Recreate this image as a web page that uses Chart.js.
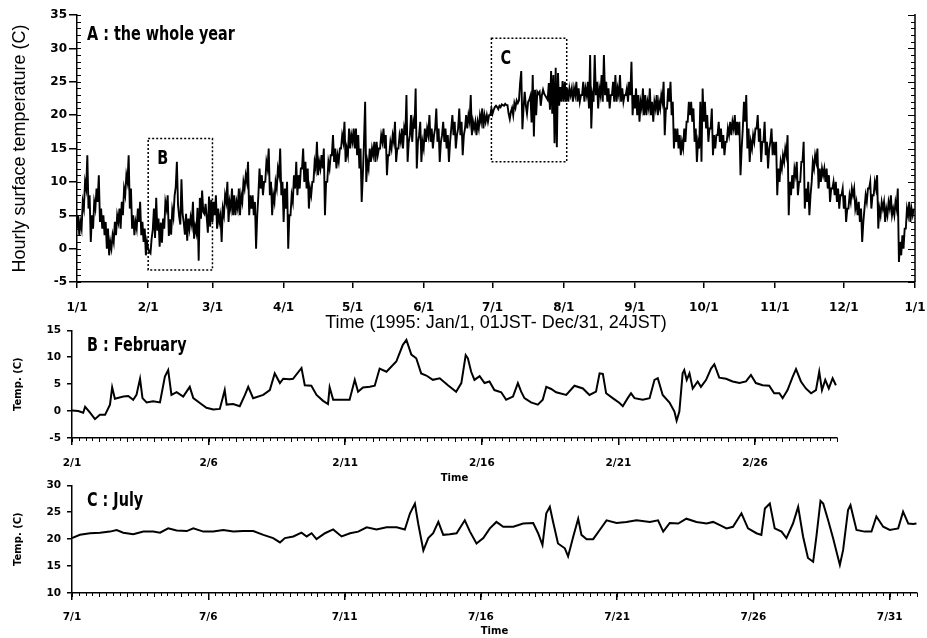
<!DOCTYPE html>
<html>
<head>
<meta charset="utf-8">
<script src="https://cdn.jsdelivr.net/npm/chart.js@4"></script>
<style>
  body { margin: 0; background: #fff; }
  #wrap { position: relative; width: 927px; height: 638px; background: #fff; overflow: hidden; }
  canvas { position: absolute; left: 0; }
  .ptitle {
    position: absolute; left: 87px; margin: 0;
    font-family: "Liberation Sans Narrow", "DejaVu Sans Condensed", "DejaVu Sans", sans-serif;
    font-weight: bold; font-size: 20px; line-height: 20px; color: #000; white-space: nowrap;
    transform: scaleX(0.8); transform-origin: left top;
  }
</style>
</head>
<body>
<div id="wrap">
  <canvas id="chartYear" width="927" height="335" style="top:0px"></canvas>
  <canvas id="chartFeb" width="927" height="167" style="top:318px"></canvas>
  <canvas id="chartJul" width="927" height="165" style="top:473px"></canvas>
  <div class="ptitle" style="top:23px">A : the whole year</div>
  <div class="ptitle" style="top:334px">B : February</div>
  <div class="ptitle" style="top:489px">C : July</div>
</div>
<script>
// --- DATA ---
// A: whole year, two readings per day (12 h apart), day 0 = Jan/1
const yearTemp = [
  // Jan
  3,5, 2,4, 3,7, 6,10, 9,14, 6,8, 1,5, 3,7, 6,9, 7,11, 4,6, 3,5, 2,4, 0,3, -1,1, 0,2, 1,4, 2,5, 4,6, 3,7, 5,9, 8,11, 10,14, 6,9, 3,5, 2,4, 3,6, 4,7, 2,4, 1,3, -1,1,
  // Feb
  0,-0.5, -0.7,1.5, 2.8,6, 1.6,7.6, 2.7,4.5, 0.3,3.9, 0.9,4.5, 3,7, 6,8, 1.9,4.4, 2.1,5.8, 4.7,7.9, 9.2,13, 6.6,4.8, 3.6,10.4, 5.2,3.9, 2.1,5.2, 1.2,4.5, 3,4.7, 3.6,7, 1.5,3.3, 2.4,6.1, -1.8,7.6, 4.5,8.7, 5.5,5.2, 6.7,4.7, 2.4,7.8, 3.3,7.3,
  // Mar
  4,7, 5,8, 3,6, 4,5, 1,6, 5,8, 7,10, 4,7, 6,9, 5,8, 5,7, 6,9, 5,8, 7,10, 9,11, 10,13, 5,8, 6,8, 5,7, 0,5, 8,12, 9,11, 8,10, 10,13, 12,15, 8,10, 5,8, 7,10, 9,12, 11,15, 8,10,
  // Apr
  4,9, 6,10, 0,5, 5,8, 7,11, 9,13, 8,11, 9,12, 12,15, 10,13, 9,12, 6,9, 8,10, 10,13, 12,16, 11,13, 12,14, 12,15, 5,10, 10,13, 12,14, 14,17, 13,15, 12,14, 13,15, 15,17, 16,19, 13,15, 14,18, 15,17,
  // May
  16,18, 15,18, 14,17, 12,15, 7,11, 16,22, 10,13, 12,15, 13,15, 14,16, 13,16, 14,15, 15,17, 16,18, 15,17, 11,14, 14,16, 15,17, 16,19, 13,15, 15,17, 16,18, 15,18, 17,23, 13,16, 17,20, 16,19, 18,24, 12,16, 17,19, 13,16,
  // Jun
  15,18, 16,18, 17,20, 16,18, 15,17, 18,21, 16,18, 13,16, 17,19, 16,18, 15,17, 13,16, 18,20, 17,19, 15,17, 18,21, 17,19, 14,17, 18,20, 18,20, 19,23, 17,19, 18,19, 17,19, 18,20, 19,21, 18,20, 19,20, 19,20, 20,21,
  // Jul
  20.2,20.8, 21.2,21.4, 21.2,20.9, 21.4,21.2, 21.6,21.5, 21.4,21.7, 21.5,21.5, 20.2,19.4, 20.5,21.1, 20,21.8, 21.1,22.2, 21.8,22.2, 24.8,26.6, 17.9,21.1, 23.5,21.4, 20.2,22, 22.3,22.9, 18.9,26, 16.8,23.8, 20,23.5, 23.2,23.5, 21.4,23, 23.8,23.2, 22.9,22.6, 22.3,24.8, 20.8,26.6, 20.2,26, 15.8,27.1, 15.2,26.3, 21.4,24.2, 22,25.1,
  // Aug
  22,25, 22,24, 22,24, 23,24, 22,24, 23,25, 22,24, 22,23, 23,25, 22,24, 23,25, 21,29, 18,23, 22,29, 23,25, 21,24, 23,26, 22,29, 23,25, 22,24, 21,23, 23,25, 22,26, 22,24, 23,26, 22,24, 22,23, 23,24, 22,25, 23,28, 20,23,
  // Sep
  21,24, 20,23, 19,22, 21,24, 20,23, 20,22, 21,24, 20,22, 19,22, 21,23, 20,22, 21,23, 22,25, 17,21, 21,24, 22,25, 20,22, 15,18, 16,18, 15,17, 14,16, 15,18, 16,19, 19,22, 20,22, 19,21, 16,18, 13,16, 15,22, 13,24,
  // Oct
  19,22, 18,20, 16,18, 18,21, 14,17, 15,17, 17,19, 16,18, 15,17, 14,16, 16,18, 17,19, 17,19, 18,20, 17,19, 17,19, 11,15, 18,22, 19,23, 15,18, 13,16, 15,17, 16,18, 18,20, 16,18, 13,16, 16,19, 14,16, 12,15, 16,18, 14,16,
  // Nov
  14,16, 8,12, 10,13, 12,14, 13,15, 14,17, 5,10, 8,11, 9,12, 11,13, 8,10, 10,13, 13,16, 6,9, 7,10, 5,8, 10,13, 12,14, 13,15, 9,12, 10,12, 11,12, 10,12, 9,11, 7,9, 9,10, 8,10, 7,9, 6,8, 8,9,
  // Dec
  6,8, 4,6, 6,8, 7,9, 8,9, 6,7, 5,7, 4,6, 1,4, 6,8, 7,9, 9,10, 6,8, 8,10, 9,11, 3,6, 5,7, 6,7, 4,6, 5,7, 6,8, 5,6, 5,7, 6,9, -2,1, -1,2, 0,3, 3,6, 5,7, 4,6, 5,6
];
const monthStarts = [0, 31, 59, 90, 120, 151, 181, 212, 243, 273, 304, 334, 365];
const monthLabels = ['1/1', '2/1', '3/1', '4/1', '5/1', '6/1', '7/1', '8/1', '9/1', '10/1', '11/1', '12/1', '1/1'];

// B: February, days since Feb/1
const febDay = [
  0, 0.23, 0.41, 0.48, 0.66, 0.84, 1.02, 1.21, 1.39, 1.47,
  1.57, 1.88, 2.06, 2.24, 2.36, 2.49, 2.58, 2.73, 2.97, 3.22,
  3.40, 3.52, 3.64, 3.83, 4.07, 4.31, 4.44, 4.68, 4.92, 5.17,
  5.41, 5.53, 5.59, 5.66, 5.90, 6.14, 6.33, 6.45, 6.63, 7.00,
  7.24, 7.42, 7.61, 7.73, 7.97, 8.09, 8.40, 8.52, 8.76, 8.95,
  9.19, 9.37, 9.43, 9.56, 9.80, 10.16, 10.35, 10.47, 10.65, 10.90,
  11.08, 11.26, 11.51, 11.87, 12.11, 12.24, 12.42, 12.60, 12.78, 12.97,
  13.21, 13.46, 13.76, 14.06, 14.25, 14.41, 14.49, 14.61, 14.73, 14.92,
  15.10, 15.28, 15.46, 15.71, 15.89, 16.14, 16.32, 16.44, 16.56, 16.80,
  17.05, 17.23, 17.36, 17.54, 17.72, 18.09, 18.39, 18.70, 18.94, 19.18,
  19.31, 19.43, 19.55, 19.79, 20.04, 20.16, 20.34, 20.46, 20.59, 20.89,
  21.14, 21.32, 21.44, 21.62, 21.87, 22.05, 22.13, 22.23, 22.35, 22.41,
  22.50, 22.60, 22.72, 22.90, 23.02, 23.21, 23.39, 23.51, 23.69, 23.94,
  24.18, 24.43, 24.67, 24.85, 25.03, 25.28, 25.52, 25.70, 25.89, 26.01,
  26.19, 26.38, 26.50, 26.68, 26.86, 27.05, 27.23, 27.35, 27.45, 27.57,
  27.70, 27.84, 27.96
];
const febTemp = [
  0.1, 0, -0.3, 0.8, -0.3, -1.5, -0.7, -0.7, 1.2, 4.4,
  2.3, 2.7, 2.8, 2.1, 3.0, 6.0, 2.4, 1.6, 1.8, 1.6,
  6.4, 7.6, 3.0, 3.5, 2.7, 4.5, 2.4, 1.5, 0.6, 0.3,
  0.4, 2.7, 3.9, 1.2, 1.3, 0.9, 3.0, 4.5, 2.4, 3.0,
  3.9, 7.0, 5.2, 6.0, 5.9, 6.0, 8.0, 4.8, 4.7, 3.0,
  1.9, 1.3, 4.4, 2.1, 2.1, 2.1, 5.8, 3.6, 4.4, 4.5,
  4.7, 7.9, 7.3, 9.2, 12.3, 13.2, 10.5, 9.8, 7.0, 6.6,
  5.8, 6.1, 4.8, 3.6, 5.2, 10.4, 9.8, 7.3, 5.8, 6.5,
  5.2, 5.5, 3.9, 3.5, 2.1, 2.7, 5.2, 3.6, 2.4, 1.6,
  1.2, 2.1, 4.5, 4.1, 3.5, 3.0, 4.7, 4.2, 3.0, 3.6,
  7.0, 6.9, 3.3, 2.4, 1.5, 0.9, 2.4, 3.3, 2.4, 2.1,
  2.4, 5.8, 6.1, 3.0, 1.6, -0.1, -1.8, -0.1, 7.0, 7.6,
  5.8, 7.0, 4.2, 5.5, 4.5, 5.8, 7.9, 8.7, 6.2, 6.0,
  5.5, 5.2, 5.5, 6.7, 5.2, 4.8, 4.7, 3.3, 3.3, 2.4,
  3.9, 6.4, 7.8, 5.5, 4.2, 3.3, 3.9, 7.3, 3.9, 5.8,
  4.2, 6.1, 4.8
];
const febTickDays = [0, 5, 10, 15, 20, 25];
const febTickLabels = ['2/1', '2/6', '2/11', '2/16', '2/21', '2/26'];

// C: July, days since Jul/1
const julDay = [
  0, 0.29, 0.66, 1.03, 1.39, 1.64, 1.88, 2.25, 2.62, 2.98,
  3.23, 3.53, 3.84, 4.21, 4.45, 4.82, 5.18, 5.55, 5.92, 6.28,
  6.65, 7.02, 7.38, 7.63, 7.81, 8.12, 8.42, 8.61, 8.79, 8.97,
  9.28, 9.58, 9.89, 10.20, 10.50, 10.81, 11.17, 11.54, 11.91, 12.21,
  12.40, 12.58, 12.70, 12.89, 13.07, 13.25, 13.44, 13.62, 13.86, 14.11,
  14.41, 14.60, 14.84, 15.09, 15.33, 15.57, 15.82, 16.19, 16.55, 16.92,
  17.10, 17.26, 17.40, 17.53, 17.65, 17.83, 18.08, 18.20, 18.39, 18.57,
  18.69, 18.88, 19.12, 19.36, 19.61, 19.98, 20.34, 20.71, 21.20, 21.50,
  21.69, 21.93, 22.24, 22.54, 22.91, 23.28, 23.52, 23.77, 24.01, 24.25,
  24.56, 24.80, 25.11, 25.29, 25.42, 25.60, 25.78, 26.03, 26.21, 26.45,
  26.64, 26.82, 27.00, 27.19, 27.31, 27.46, 27.56, 27.74, 27.92, 28.17,
  28.29, 28.47, 28.56, 28.78, 29.08, 29.33, 29.51, 29.76, 30.00, 30.31,
  30.49, 30.68, 30.86, 30.98
];
const julTemp = [
  20.2, 20.8, 21.1, 21.2, 21.4, 21.7, 21.2, 20.9, 21.4, 21.4,
  21.2, 22.0, 21.6, 21.5, 22.0, 21.4, 21.4, 21.7, 21.4, 21.5,
  21.5, 20.8, 20.2, 19.4, 20.2, 20.5, 21.2, 20.5, 21.1, 20.0,
  21.1, 21.8, 20.5, 21.1, 21.4, 22.2, 21.8, 22.2, 22.2, 21.8,
  24.8, 26.6, 22.9, 17.9, 20.2, 21.1, 23.2, 20.8, 20.9, 21.1,
  23.5, 21.4, 19.2, 20.2, 22.0, 23.2, 22.3, 22.3, 22.9, 23.0,
  21.1, 18.9, 24.8, 26.0, 23.2, 19.2, 18.3, 16.8, 20.5, 23.8,
  20.8, 20.0, 20.0, 21.7, 23.5, 23.0, 23.2, 23.5, 23.2, 23.5,
  21.4, 23.0, 22.9, 23.8, 23.2, 22.9, 23.2, 22.6, 22.0, 22.3,
  24.8, 22.0, 21.1, 20.8, 25.7, 26.6, 22.0, 21.4, 20.2, 22.9,
  26.0, 20.5, 16.5, 15.8, 20.5, 27.1, 26.6, 23.5, 20.2, 15.2,
  18.0, 25.4, 26.3, 21.7, 21.4, 21.4, 24.2, 22.3, 21.7, 22.0,
  25.1, 22.9, 22.8, 22.9
];
const julTickDays = [0, 5, 10, 15, 20, 25, 30];
const julTickLabels = ['7/1', '7/6', '7/11', '7/16', '7/21', '7/26', '7/31'];

// --- minor ticks, right axis, dotted boxes ---
const frameTicks = {
  id: 'frameTicks',
  afterDraw(chart, args, opts) {
    const ctx = chart.ctx;
    const { left, right, top, bottom } = chart.chartArea;
    const xs = chart.scales.x, ys = chart.scales.y;
    ctx.save();
    ctx.strokeStyle = '#000';
    ctx.lineWidth = 1;
    ctx.beginPath();
    if (opts.yMinor) {
      const n = Math.round((ys.max - ys.min) / opts.yMinor);
      for (let i = 0; i <= n; i++) {
        const v = ys.min + i * opts.yMinor;
        const py = Math.round(ys.getPixelForValue(v)) + 0.5;
        ctx.moveTo(left, py); ctx.lineTo(left + 4, py);
        if (opts.rightAxis) {
          const len = (Math.round(v) % 5 === 0) ? 7 : 4;
          ctx.moveTo(right, py); ctx.lineTo(right - len, py);
        }
      }
    }
    if (opts.xMinor) {
      const n = Math.round((xs.max - xs.min) / opts.xMinor);
      for (let i = 0; i <= n; i++) {
        const v = xs.min + i * opts.xMinor;
        const px = Math.round(xs.getPixelForValue(v)) + 0.5;
        const len = (i % Math.round(1 / opts.xMinor) === 0) ? 4 : 3;
        ctx.moveTo(px, bottom); ctx.lineTo(px, bottom + len);
      }
    }
    ctx.stroke();
    if (opts.rightAxis) {
      ctx.lineWidth = 1.5;
      ctx.beginPath();
      ctx.moveTo(right, top - 1); ctx.lineTo(right, bottom);
      ctx.stroke();
    }
    (opts.boxes || []).forEach(b => {
      const x0 = xs.getPixelForValue(b.from), x1 = xs.getPixelForValue(b.to);
      const y0 = ys.getPixelForValue(b.hi), y1 = ys.getPixelForValue(b.lo);
      ctx.lineWidth = 1.5;
      ctx.setLineDash([2, 2]);
      ctx.strokeRect(x0, y0, x1 - x0, y1 - y0);
      ctx.setLineDash([]);
      ctx.fillStyle = '#000';
      ctx.font = 'bold 20px "Liberation Sans Narrow", "DejaVu Sans Condensed", "DejaVu Sans", sans-serif';
      ctx.textBaseline = 'top';
      ctx.save();
      ctx.translate(x0 + 9, y0 + 10);
      ctx.scale(0.8, 1);
      ctx.fillText(b.label, 0, 0);
      ctx.restore();
    });
    ctx.restore();
  }
};

Chart.register(frameTicks);

function fixWidth(w) { return s => { s.width = w; }; }
// fixed height, and no extra room for the edge labels
function fixHeight(h) { return s => { s.height = h; s.paddingLeft = 0; s.paddingRight = 0; }; }

const tickFontBig = { family: '"DejaVu Sans", sans-serif', size: 12, weight: 'bold' };
const tickFontSmall = { family: '"DejaVu Sans", sans-serif', size: 10.5, weight: 'bold' };

// --- GRÁFICO A: the whole year ---
new Chart(document.getElementById('chartYear'), {
  type: 'line',
  data: {
    datasets: [{
      data: yearTemp.map((t, i) => ({ x: i / 2, y: t })),
      borderColor: '#000',
      borderWidth: 1.9,
      pointRadius: 0,
      tension: 0
    }]
  },
  options: {
    responsive: false,
    animation: false,
    devicePixelRatio: 1,
    layout: { padding: { top: 15, right: 12, left: 0, bottom: 0 } },
    plugins: {
      legend: { display: false },
      tooltip: { enabled: false },
      frameTicks: {
        yMinor: 1,
        rightAxis: true,
        boxes: [
          { label: 'B', from: 31, to: 59, lo: -3.2, hi: 16.5 },
          { label: 'C', from: 180.5, to: 213.3, lo: 13, hi: 31.5 }
        ]
      }
    },
    scales: {
      x: {
        type: 'linear', min: 0, max: 365,
        afterFit: fixHeight(53),
        afterBuildTicks: s => { s.ticks = monthStarts.map(v => ({ value: v })); },
        ticks: {
          autoSkip: false, maxRotation: 0, padding: 13, color: '#000', font: tickFontBig,
          callback: (v, i) => monthLabels[i]
        },
        grid: { drawOnChartArea: false, tickLength: 6, color: '#000', lineWidth: 1.5 },
        border: { display: true, color: '#000', width: 1.5 },
        title: {
          display: true, text: 'Time (1995: Jan/1, 01JST- Dec/31, 24JST)', color: '#000',
          font: { family: '"Liberation Sans", Arial, sans-serif', size: 18 },
          padding: { top: 0, bottom: 1 }
        }
      },
      y: {
        min: -5, max: 35,
        afterFit: fixWidth(77),
        ticks: { stepSize: 5, padding: 2, color: '#000', font: tickFontBig },
        grid: { drawOnChartArea: false, tickLength: 8, color: '#000', lineWidth: 1.5 },
        border: { display: true, color: '#000', width: 1.5 },
        title: {
          display: true, text: 'Hourly surface temperature (C)', color: '#000',
          font: { family: '"Liberation Sans", Arial, sans-serif', size: 18 },
          padding: { top: 9, bottom: 0 }
        }
      }
    }
  }
});

// --- GRÁFICOS B e C ---
function createDetailChart(canvasId, days, temps, yMin, yMax, xMax, tickDays, tickLabels, rightPad, xHeight, labelPad) {
  return new Chart(document.getElementById(canvasId), {
    type: 'line',
    data: {
      datasets: [{
        data: days.map((d, i) => ({ x: d, y: temps[i] })),
        borderColor: '#000',
        borderWidth: 2,
        pointRadius: 0,
        tension: 0
      }]
    },
    options: {
      responsive: false,
      animation: false,
      devicePixelRatio: 1,
      layout: { padding: { top: 12, right: rightPad, left: 0, bottom: 0 } },
      plugins: {
        legend: { display: false },
        tooltip: { enabled: false },
        frameTicks: { xMinor: 0.25 }
      },
      scales: {
        x: {
          type: 'linear', min: 0, max: xMax,
          afterFit: fixHeight(xHeight),
          afterBuildTicks: s => { s.ticks = tickDays.map(v => ({ value: v })); },
          ticks: {
            autoSkip: false, maxRotation: 0, padding: labelPad, color: '#000', font: tickFontSmall,
            callback: (v, i) => tickLabels[i]
          },
          grid: { drawOnChartArea: false, tickLength: 7, color: '#000', lineWidth: 1.5 },
          border: { display: true, color: '#000', width: 1.5 },
          title: {
            display: true, text: 'Time', color: '#000',
            font: { family: '"DejaVu Sans", sans-serif', size: 10, weight: 'bold' },
            padding: { top: 0, bottom: 1 }
          }
        },
        y: {
          min: yMin, max: yMax,
          afterFit: fixWidth(72),
          ticks: { stepSize: 5, padding: 6, color: '#000', font: tickFontSmall },
          grid: { drawOnChartArea: false, tickLength: 5, color: '#000', lineWidth: 1.5 },
          border: { display: true, color: '#000', width: 1.5 },
          title: {
            display: true, text: 'Temp. (C)', color: '#000',
            font: { family: '"DejaVu Sans", sans-serif', size: 10, weight: 'bold' },
            padding: { top: 12, bottom: 0 }
          }
        }
      }
    }
  });
}

createDetailChart('chartFeb', febDay, febTemp, -5, 15, 28, febTickDays, febTickLabels, 90, 47, 12);
createDetailChart('chartJul', julDay, julTemp, 10, 30, 31, julTickDays, julTickLabels, 10, 45, 11);
</script>
</body>
</html>
